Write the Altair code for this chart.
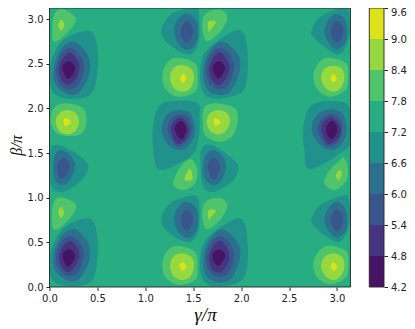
import altair as alt
import pandas as pd

# Each contour: (band lower bound, x values in gamma/pi, y values in beta/pi)
A1 = [("7.8", [.144,.277,.197,.05,.03,.057], [3.108,3.007,2.858,2.746,2.914,3.071]),
      ("8.4", [.124,.155,.124,.092], [2.996,2.933,2.869,2.933])]
A2 = [("6.6", [.405,.492,.499,.423,.179,.023,.012,.144], [2.869,2.728,2.392,2.149,2.112,2.205,2.504,2.765]),
      ("6.0", [.266,.405,.416,.318,.197,.057,.047,.127], [2.746,2.578,2.392,2.187,2.157,2.28,2.466,2.672]),
      ("5.4", [.214,.318,.36,.301,.197,.103,.068,.117], [2.683,2.597,2.448,2.261,2.213,2.28,2.429,2.597]),
      ("4.8", [.214,.291,.311,.266,.197,.127,.099,.138], [2.627,2.541,2.429,2.317,2.261,2.317,2.429,2.56]),
      ("4.2", [.207,.256,.263,.197,.144,.144], [2.53,2.485,2.422,2.328,2.41,2.485])]
A3 = [("7.8", [.197,.353,.388,.336,.179,.057,.012,.057], [2.056,2.0,1.851,1.72,1.69,1.739,1.869,2.019]),
      ("8.4", [.186,.277,.308,.273,.186,.1,.064,.1], [1.981,1.944,1.851,1.75,1.709,1.75,1.851,1.944]),
      ("9.0", [.169,.221,.169,.144], [1.896,1.847,1.802,1.851])]
A4 = [("6.6", [.092,.301,.405,.318,.144,.023,.009,.012], [1.59,1.478,1.347,1.179,1.067,1.123,1.347,1.534]),
      ("6.0", [.127,.231,.269,.214,.137,.057,.04,.057], [1.534,1.459,1.347,1.205,1.142,1.198,1.347,1.478]),
      ("5.4", [.144,.197,.207,.162,.11,.082,.082], [1.451,1.403,1.328,1.235,1.216,1.31,1.384])]
A5 = [("7.8", [.144,.277,.214,.057,.023,.057], [1.0,.918,.769,.638,.806,.974]),
      ("8.4", [.12,.151,.12,.092], [.899,.836,.769,.836])]
A6 = [("6.6", [.405,.492,.499,.43,.179,.023,.009,.144], [.769,.619,.302,.06,.011,.097,.377,.657]),
      ("6.0", [.266,.405,.416,.318,.197,.057,.047,.127], [.646,.489,.302,.097,.067,.19,.377,.571]),
      ("5.4", [.214,.318,.36,.301,.197,.103,.068,.117], [.571,.496,.358,.172,.123,.19,.34,.496]),
      ("4.8", [.214,.291,.311,.266,.197,.127,.099,.138], [.519,.444,.34,.228,.164,.228,.34,.451]),
      ("4.2", [.207,.256,.263,.197,.144,.144], [.425,.384,.321,.228,.302,.384])]

B1 = [("6.6", [1.536,1.564,1.554,1.467,1.328,1.188,1.171,1.258,1.397], [3.131,2.989,2.728,2.608,2.653,2.784,2.896,3.045,3.108]),
      ("6.0", [1.432,1.53,1.554,1.519,1.432,1.345,1.3,1.335], [3.063,2.989,2.84,2.709,2.653,2.728,2.858,2.989]),
      ("5.4", [1.432,1.484,1.501,1.474,1.432,1.387,1.37,1.39], [2.981,2.933,2.858,2.773,2.735,2.773,2.858,2.933])]
B2 = [("7.8", [1.328,1.519,1.547,1.519,1.345,1.206,1.178,1.223], [2.567,2.504,2.336,2.187,2.131,2.224,2.373,2.504]),
      ("8.4", [1.379,1.484,1.508,1.467,1.379,1.293,1.258,1.293], [2.485,2.437,2.336,2.224,2.187,2.235,2.347,2.448]),
      ("9.0", [1.397,1.425,1.397,1.362], [2.384,2.336,2.287,2.325])]
B3 = [("6.6", [1.293,1.543,1.564,1.554,1.467,1.154,1.084,1.084,1.154], [2.082,2.063,1.907,1.646,1.459,1.31,1.534,1.832,2.037]),
      ("6.0", [1.345,1.467,1.519,1.484,1.379,1.24,1.171,1.223], [1.981,1.944,1.776,1.627,1.534,1.59,1.757,1.925]),
      ("5.4", [1.379,1.46,1.484,1.432,1.345,1.275,1.23,1.275], [1.937,1.877,1.757,1.627,1.571,1.646,1.776,1.888]),
      ("4.8", [1.37,1.432,1.456,1.414,1.334,1.286,1.268,1.303], [1.899,1.84,1.75,1.646,1.601,1.69,1.776,1.862]),
      ("4.2", [1.37,1.421,1.421,1.38,1.32,1.313], [1.862,1.802,1.728,1.657,1.72,1.802])]
B4 = [("7.8", [1.484,1.543,1.519,1.397,1.293,1.328,1.397], [1.429,1.31,1.16,1.086,1.142,1.272,1.384]),
      ("8.4", [1.467,1.491,1.408], [1.328,1.205,1.205])]
B5 = [("6.6", [1.536,1.564,1.554,1.467,1.328,1.188,1.171,1.258,1.397], [1.019,.881,.619,.507,.545,.675,.787,.937,1.0]),
      ("6.0", [1.432,1.53,1.554,1.519,1.432,1.345,1.3,1.335], [.955,.881,.731,.601,.545,.619,.75,.881]),
      ("5.4", [1.432,1.484,1.501,1.474,1.432,1.387,1.37,1.39], [.873,.825,.75,.668,.627,.668,.75,.825])]
B6 = [("7.8", [1.328,1.519,1.547,1.519,1.345,1.206,1.178,1.223], [.459,.396,.228,.078,.026,.116,.265,.396]),
      ("8.4", [1.379,1.484,1.508,1.467,1.379,1.293,1.258,1.293], [.377,.332,.228,.116,.078,.127,.239,.34]),
      ("9.0", [1.397,1.425,1.39,1.352], [.276,.228,.183,.246])]

C1 = [("7.8", [1.797,1.856,1.78,1.658,1.606,1.599,1.658], [3.101,3.007,2.858,2.754,2.821,2.989,3.082]),
      ("8.4", [1.738,1.693,1.665,1.658], [2.97,2.896,2.858,2.97])]
C2 = [("6.6", [1.988,2.058,2.065,1.988,1.71,1.588,1.581,1.658,1.85], [2.877,2.728,2.354,2.168,2.112,2.224,2.504,2.672,2.821]),
      ("6.0", [1.815,1.971,1.982,1.884,1.728,1.623,1.613,1.693], [2.746,2.597,2.41,2.187,2.157,2.261,2.485,2.672]),
      ("5.4", [1.78,1.884,1.926,1.867,1.763,1.669,1.634,1.682], [2.683,2.597,2.448,2.261,2.213,2.28,2.429,2.597]),
      ("4.8", [1.78,1.856,1.877,1.832,1.763,1.693,1.665,1.703], [2.627,2.541,2.429,2.317,2.261,2.317,2.429,2.56]),
      ("4.2", [1.773,1.822,1.828,1.763,1.71,1.71], [2.53,2.485,2.422,2.336,2.41,2.485])]
C3 = [("7.8", [1.763,1.936,1.964,1.902,1.763,1.623,1.599,1.623], [2.056,2.0,1.851,1.683,1.627,1.701,1.869,2.019]),
      ("8.4", [1.763,1.856,1.884,1.842,1.763,1.675,1.64,1.675], [1.981,1.944,1.851,1.75,1.709,1.75,1.851,1.944]),
      ("9.0", [1.728,1.79,1.734,1.717], [1.896,1.847,1.806,1.851])]
C4 = [("6.6", [1.693,1.884,1.971,1.919,1.728,1.606,1.578,1.589], [1.59,1.459,1.347,1.198,1.067,1.123,1.347,1.552]),
      ("6.0", [1.71,1.814,1.842,1.797,1.71,1.623,1.606,1.63], [1.534,1.459,1.347,1.198,1.142,1.216,1.347,1.478]),
      ("5.4", [1.717,1.763,1.78,1.738,1.693,1.658,1.658], [1.451,1.403,1.328,1.216,1.216,1.31,1.392])]
C5 = [("7.8", [1.797,1.856,1.78,1.658,1.606,1.599,1.658], [.993,.899,.75,.649,.713,.881,.974]),
      ("8.4", [1.738,1.693,1.665,1.658], [.858,.791,.754,.858])]
C6 = [("6.6", [1.988,2.058,2.065,1.988,1.71,1.588,1.581,1.658,1.85], [.769,.619,.246,.06,.011,.116,.395,.563,.713]),
      ("6.0", [1.815,1.971,1.982,1.884,1.728,1.623,1.613,1.693], [.646,.489,.302,.078,.06,.153,.377,.563]),
      ("5.4", [1.78,1.884,1.926,1.867,1.763,1.669,1.634,1.682], [.571,.489,.34,.153,.116,.183,.321,.489]),
      ("4.8", [1.78,1.856,1.877,1.832,1.763,1.693,1.665,1.703], [.519,.433,.321,.209,.16,.209,.321,.451]),
      ("4.2", [1.773,1.822,1.828,1.763,1.71,1.71], [.421,.384,.321,.235,.302,.384])]

D1 = [("6.6", [3.05,3.119,3.13,3.033,2.893,2.754,2.737,2.824], [3.131,3.101,2.802,2.608,2.672,2.802,2.877,3.026]),
      ("6.0", [2.998,3.085,3.109,3.085,2.998,2.918,2.869,2.911], [3.056,2.989,2.84,2.728,2.661,2.728,2.858,2.989]),
      ("5.4", [2.998,3.05,3.067,3.043,2.998,2.956,2.935,2.956], [2.981,2.933,2.858,2.773,2.735,2.773,2.858,2.933])]
D2 = [("7.8", [2.911,3.095,3.119,3.085,2.928,2.789,2.754,2.806], [2.567,2.504,2.336,2.205,2.131,2.224,2.373,2.504]),
      ("8.4", [2.963,3.057,3.078,3.043,2.963,2.876,2.834,2.876], [2.478,2.437,2.336,2.235,2.187,2.235,2.347,2.448]),
      ("9.0", [2.963,2.998,2.963,2.935], [2.384,2.336,2.291,2.336])]
D3 = [("6.6", [2.893,3.102,3.14,3.14,3.085,2.719,2.66,2.65,2.719], [2.082,2.049,1.869,1.646,1.534,1.317,1.534,1.795,2.019]),
      ("6.0", [2.928,3.057,3.102,3.067,2.963,2.824,2.737,2.789], [1.989,1.944,1.776,1.627,1.534,1.59,1.757,1.925]),
      ("5.4", [2.946,3.033,3.057,3.015,2.911,2.841,2.796,2.848], [1.937,1.877,1.757,1.627,1.571,1.646,1.776,1.888]),
      ("4.8", [2.946,3.015,3.043,2.998,2.911,2.859,2.834,2.876], [1.899,1.84,1.75,1.646,1.601,1.69,1.776,1.862]),
      ("4.2", [2.946,2.998,2.998,2.946,2.893,2.893], [1.862,1.802,1.728,1.657,1.72,1.802])]
D4 = [("7.8", [3.067,3.112,3.102,2.981,2.869,2.911,3.015], [1.451,1.347,1.198,1.086,1.16,1.291,1.403]),
      ("8.4", [3.033,3.05,3.015,2.991], [1.31,1.254,1.19,1.254])]
D5 = [("6.6", [3.05,3.119,3.13,3.033,2.893,2.754,2.737,2.824], [1.019,.993,.694,.507,.563,.694,.769,.918]),
      ("6.0", [2.998,3.085,3.109,3.085,2.998,2.918,2.869,2.911], [.955,.881,.731,.619,.556,.619,.75,.881]),
      ("5.4", [2.998,3.05,3.067,3.043,2.998,2.956,2.935,2.956], [.873,.825,.75,.668,.627,.668,.75,.825])]
D6 = [("7.8", [2.911,3.095,3.119,3.085,2.928,2.789,2.754,2.806], [.463,.403,.228,.097,.03,.116,.265,.396]),
      ("8.4", [2.963,3.057,3.078,3.043,2.963,2.876,2.834,2.876], [.377,.332,.228,.127,.078,.127,.239,.34]),
      ("9.0", [2.963,3.005,2.963,2.935], [.276,.228,.183,.235])]

BLOBS = [A1, A2, A3, A4, A5, A6, B1, B2, B3, B4, B5, B6,
         C1, C2, C3, C4, C5, C6, D1, D2, D3, D4, D5, D6]

BAND_LOW = [4.2, 4.8, 5.4, 6.0, 6.6, 7.2, 7.8, 8.4, 9.0]
BAND_NAMES = ["4.2", "4.8", "5.4", "6.0", "6.6", "7.2", "7.8", "8.4", "9.0"]
BAND_COLORS = ["#471365", "#463480", "#39568c", "#2d708e", "#21918c",
               "#27ad81", "#4fc46a", "#95d840", "#dde318"]
CBAR_TICKS = [4.2, 4.8, 5.4, 6.0, 6.6, 7.2, 7.8, 8.4, 9.0, 9.6]
AXIS_TICKS = [0.0, 0.5, 1.0, 1.5, 2.0, 2.5, 3.0]
PI = 3.1416

rows = []
cid = 0
for blob in BLOBS:
    for band, xs, ys in blob:
        for i, (xv, yv) in enumerate(zip(xs, ys)):
            rows.append({"x": xv, "y": yv, "band": band, "cid": cid, "seq": i})
        cid += 1
contours = pd.DataFrame(rows)
bands = pd.DataFrame({"low": BAND_LOW, "high": [b + 0.6 for b in BAND_LOW], "band": BAND_NAMES})

VIEW_W = 334.5
VIEW_H = 279
xscale = alt.Scale(domain=[0, 3.4916], nice=False, zero=False)
yscale = alt.Scale(domain=[0, 3.124], nice=False, zero=False)
cscale = alt.Scale(domain=[4.2, 9.6], nice=False, zero=False)
fillscale = alt.Scale(domain=BAND_NAMES, range=BAND_COLORS)

x_axis = alt.Axis(values=AXIS_TICKS, format=".1f", grid=False, domain=False, tickColor="#222", tickSize=3.5,
                  labelFont="DejaVu Sans", labelFontSize=10, labelColor="#222", labelPadding=3, labelFlush=False,
                  title="γ/π", titleFont="Liberation Serif", titleFontStyle="italic", titleFontWeight="normal",
                  titleFontSize=19, titleColor="#111", titleX=155.5, titleY=33, titleAlign="center",
                  titleBaseline="alphabetic")
y_axis = alt.Axis(values=AXIS_TICKS, format=".1f", grid=False, domain=False, tickColor="#222", tickSize=3.5,
                  labelFont="DejaVu Sans", labelFontSize=10, labelColor="#222", labelPadding=3, labelFlush=False,
                  title="β/π", titleFont="Liberation Serif", titleFontStyle="italic", titleFontWeight="normal",
                  titleFontSize=16, titleColor="#111", titleX=-28, titleY=137, titleAlign="center", titleAngle=270,
                  titleBaseline="alphabetic")
c_axis = alt.Axis(values=CBAR_TICKS, format=".1f", grid=False, domain=False, orient="right", tickColor="#222",
                  tickSize=3.5, labelFont="DejaVu Sans", labelFontSize=10, labelColor="#222", labelPadding=3,
                  labelFlush=False, title=None,
                  labelOffset=alt.condition("datum.value == 9.6", alt.value(4), alt.value(0)))

base_row = alt.Chart(pd.DataFrame({"a": [0]}))

background = base_row.mark_rect(color=BAND_COLORS[5]).encode(
    x=alt.X("x0:Q", scale=xscale, axis=x_axis),
    x2="x1:Q",
    y=alt.Y("y0:Q", scale=yscale, axis=y_axis),
    y2="y1:Q",
).transform_calculate(x0="0", x1=str(PI), y0="0", y1="3.124")

lines = alt.Chart(contours).mark_line(interpolate="cardinal-closed", filled=True, strokeWidth=0, clip=True).encode(
    x=alt.X("x:Q", scale=xscale, axis=x_axis),
    y=alt.Y("y:Q", scale=yscale, axis=None),
    detail="cid:N",
    order="seq:Q",
    fill=alt.Fill("band:N", scale=fillscale, legend=None),
)

frame = base_row.mark_rect(filled=False, stroke="#222", strokeWidth=0.9).encode(
    x=alt.X("x0:Q", scale=xscale, axis=x_axis),
    x2="x1:Q",
    y=alt.Y("y0:Q", scale=yscale, axis=None),
    y2="y1:Q",
).transform_calculate(x0="0", x1=str(PI), y0="0", y1="3.124")

cbar = alt.Chart(bands).mark_rect().encode(
    x=alt.X("x0:Q", scale=xscale, axis=x_axis),
    x2="x1:Q",
    y=alt.Y("low:Q", scale=cscale, axis=c_axis),
    y2="high:Q",
    fill=alt.Fill("band:N", scale=fillscale, legend=None),
).transform_calculate(x0="3.338", x1="3.4916")

cframe = base_row.mark_rect(filled=False, stroke="#222", strokeWidth=0.9).encode(
    x=alt.X("x0:Q", scale=xscale, axis=x_axis),
    x2="x1:Q",
    y=alt.Y("y0:Q", scale=cscale, axis=None),
    y2="y1:Q",
).transform_calculate(x0="3.338", x1="3.4916", y0="4.2", y1="9.6")

chart = alt.layer(background, lines, frame, cbar, cframe).resolve_scale(y="independent").properties(
    width=VIEW_W, height=VIEW_H,
    background="white",
    autosize=alt.AutoSizeParams(type="none"),
    padding={"left": 41.5, "top": 0, "right": 23, "bottom": 38},
).configure_view(stroke=None)

chart.save("out.html", embed_options={"renderer": "svg", "actions": False})
